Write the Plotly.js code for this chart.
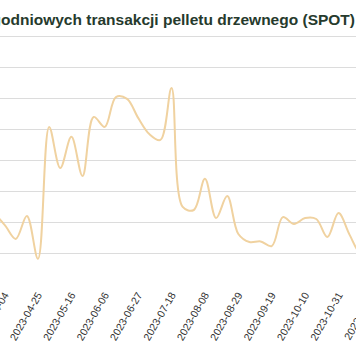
<!DOCTYPE html>
<html>
<head>
<meta charset="utf-8">
<script src="https://cdn.plot.ly/plotly-3.0.1.min.js"></script>
<style>
html,body{margin:0;padding:0;overflow:hidden;width:356px;height:364px;background:#fff;}
#chart{position:absolute;left:-20px;top:0;width:416px;height:364px;}
</style>
</head>
<body>
<div id="chart"></div>
<script>
const weeks = ["2023-03-14","2023-03-21","2023-03-28","2023-04-04","2023-04-11","2023-04-18","2023-04-25",
  "2023-05-02","2023-05-09","2023-05-16","2023-05-23","2023-05-30","2023-06-06","2023-06-13","2023-06-20",
  "2023-06-27","2023-07-04","2023-07-11","2023-07-18","2023-07-25","2023-08-01","2023-08-08","2023-08-15",
  "2023-08-22","2023-08-29","2023-09-05","2023-09-12","2023-09-19","2023-09-26","2023-10-03","2023-10-10",
  "2023-10-17","2023-10-24","2023-10-31","2023-11-07","2023-11-14","2023-11-21","2023-11-28","2023-12-05"];
const prices = [841,825,828,793,748,822,684,
  1108,976,1076,950,1140,1108,1204,1198,
  1137,1085,1066,1233,851,841,941,815,
  886,764,738,740,725,818,796,815,
  812,754,831,761,700,696,712,719];
const titleText = "tygodniowych transakcji pelletu drzewnego (SPOT)";

const trace = {
  x: weeks, y: prices, type: "scatter", mode: "lines",
  line: {shape: "spline", smoothing: 1, color: "#f0d2a0", width: 2},
  hoverinfo: "x+y"
};
const layout = {
  width: 416, height: 364,
  margin: {l: 0, r: 0, t: 30, b: 78, pad: 0},
  paper_bgcolor: "#fff", plot_bgcolor: "#fff",
  showlegend: false,
  title: {text: "<b>" + titleText + "</b>", xref: "container", x: 375/416, xanchor: "right",
          yref: "container", y: 1 - 19.5/364, yanchor: "middle",
          font: {family: "Liberation Sans, Arial, sans-serif", size: 15.5, color: "#263a2d"}},
  xaxis: {type: "date", range: ["2023-03-19 12:30", "2023-12-06 03:50"],
          tick0: "2023-04-04", dtick: 21*86400000, tickformat: "%Y-%m-%d",
          tickangle: -60, showgrid: false, zeroline: false, showline: false, ticks: "",
          ticklabeloverflow: "allow",
          tickfont: {family: "Liberation Sans, Arial, sans-serif", size: 10.5, color: "#333"},
          automargin: false},
  yaxis: {range: [596.79, 1419.28], tick0: 0, dtick: 100, showticklabels: false,
          gridcolor: "#dcdcdc", gridwidth: 1, zeroline: false, showline: false, automargin: false}
};
Plotly.newPlot("chart", [trace], layout, {displayModeBar: false, staticPlot: true});
</script>
</body>
</html>
